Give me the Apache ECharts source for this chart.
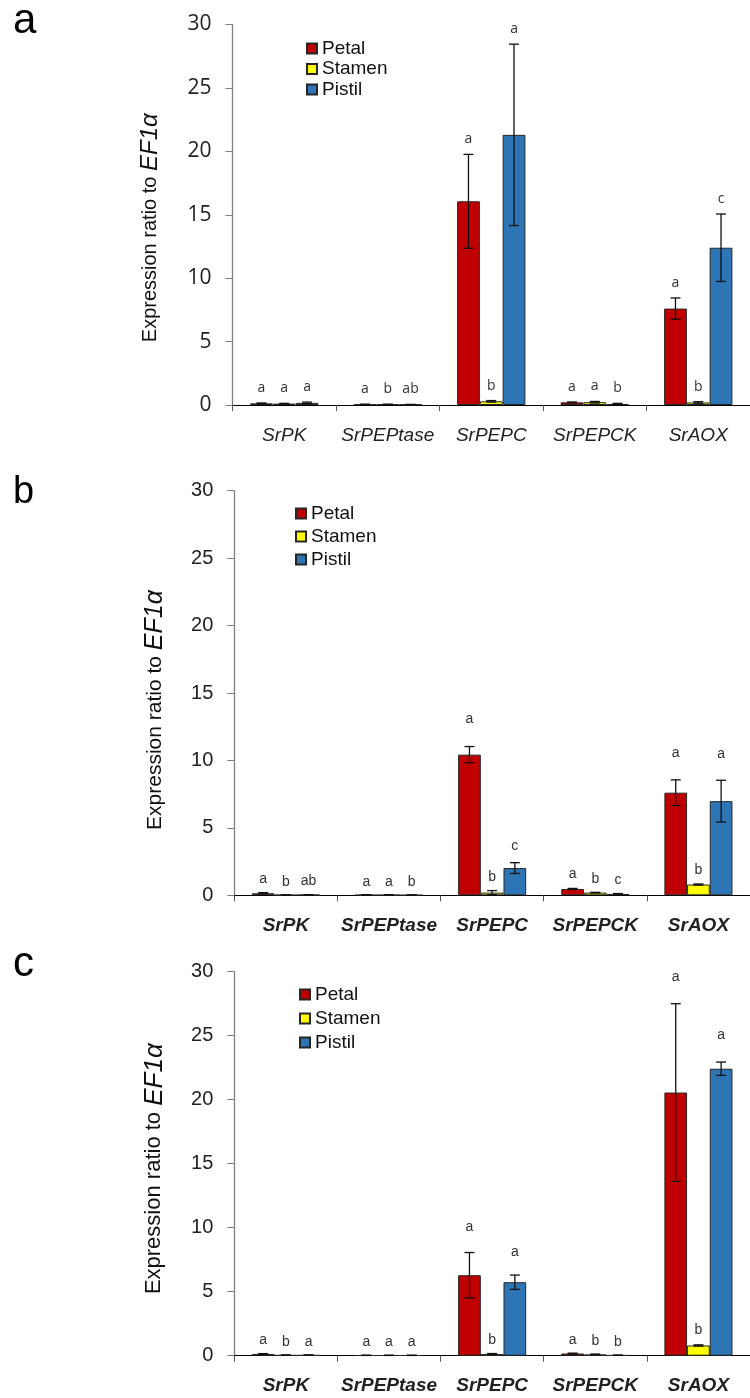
<!DOCTYPE html>
<html>
<head>
<meta charset="utf-8">
<script src="https://cdn.jsdelivr.net/npm/echarts@6/dist/echarts.min.js"></script>
<style>
  html, body { margin: 0; padding: 0; background: #fff; }
  #chart { width: 750px; height: 1398px; }
</style>
</head>
<body>
<div id="chart"></div>
<script>
// Genes on the x axis and flower organs (one bar each)
const genes = ['SrPK', 'SrPEPtase', 'SrPEPC', 'SrPEPCK', 'SrAOX'];
const tissues = ['Petal', 'Stamen', 'Pistil'];
const yMin = 0, yMax = 30, yStep = 5;

// Panel a: mean expression and error per gene
const petalA      = [0.13, 0.05, 16.06, 0.21, 7.60];
const petalErrA   = [0.03, 0.01, 3.70, 0.03, 0.84];
const stamenA     = [0.11, 0.05, 0.29, 0.22, 0.20];
const stamenErrA  = [0.02, 0.01, 0.06, 0.06, 0.06];
const pistilA     = [0.17, 0.04, 21.30, 0.08, 12.40];
const pistilErrA  = [0.06, 0.01, 7.15, 0.05, 2.66];
const petalLetA   = ['a', 'a', 'a', 'a', 'a'];
const stamenLetA  = ['a', 'b', 'b', 'a', 'b'];
const pistilLetA  = ['a', 'ab', 'a', 'b', 'c'];

// Panel b
const petalB      = [0.15, 0.03, 10.43, 0.47, 7.61];
const petalErrB   = [0.05, 0.01, 0.60, 0.04, 0.95];
const stamenB     = [0.03, 0.03, 0.20, 0.20, 0.80];
const stamenErrB  = [0.01, 0.01, 0.15, 0.02, 0.04];
const pistilB     = [0.04, 0.02, 2.02, 0.10, 6.98];
const pistilErrB  = [0.01, 0.01, 0.40, 0.03, 1.55];
const petalLetB   = ['a', 'a', 'a', 'a', 'a'];
const stamenLetB  = ['b', 'a', 'b', 'b', 'b'];
const pistilLetB  = ['ab', 'b', 'c', 'c', 'a'];

// Panel c
const petalC      = [0.13, 0.03, 6.29, 0.17, 20.56];
const petalErrC   = [0.03, 0.01, 1.77, 0.03, 6.94];
const stamenC     = [0.05, 0.03, 0.13, 0.10, 0.80];
const stamenErrC  = [0.01, 0.01, 0.04, 0.03, 0.05];
const pistilC     = [0.05, 0.03, 5.74, 0.04, 22.42];
const pistilErrC  = [0.01, 0.01, 0.56, 0.01, 0.52];
const petalLetC   = ['a', 'a', 'a', 'a', 'a'];
const stamenLetC  = ['b', 'a', 'b', 'b', 'b'];
const pistilLetC  = ['a', 'a', 'a', 'b', 'a'];

const colors = ['#C00000', '#FFFF00', '#2E75B6'];
const CAT_GAP = 0.34;

// Layout and typography for each of the three panels
const panels = [
  {
    tag: 'a', tagTop: 0, tagSize: 42,
    grid: { left: 232.5, top: 24.5, width: 525, height: 380.5 },
    tickFont: 'Open Sans', tickSize: 21,
    catWeight: 'normal', catSize: 19,
    nameSize: 20, nameFont: 'Liberation Sans Narrow, Liberation Sans', namePad: 26, nameGap: 70,
    legend: { left: 306, top: 39, gap: 1.5 },
    letterFont: 'Open Sans', gapLo: 15, gapHi: 15,
    means: [petalA, stamenA, pistilA],
    errs: [petalErrA, stamenErrA, pistilErrA],
    letters: [petalLetA, stamenLetA, pistilLetA]
  },
  {
    tag: 'b', tagTop: 474, tagSize: 38,
    grid: { left: 234.3, top: 490.7, width: 523, height: 404.6 },
    tickFont: 'Liberation Sans', tickSize: 20,
    catWeight: 'bold', catSize: 19,
    nameSize: 21, nameFont: 'Liberation Sans', namePad: 34, nameGap: 67,
    legend: { left: 295, top: 504, gap: 4 },
    letterFont: 'Liberation Sans', gapLo: 13, gapHi: 27,
    means: [petalB, stamenB, pistilB],
    errs: [petalErrB, stamenErrB, pistilErrB],
    letters: [petalLetB, stamenLetB, pistilLetB]
  },
  {
    tag: 'c', tagTop: 943, tagSize: 42,
    grid: { left: 234.3, top: 971.7, width: 524, height: 384 },
    tickFont: 'Liberation Sans', tickSize: 20,
    catWeight: 'bold', catSize: 19,
    nameSize: 22, nameFont: 'Liberation Sans', namePad: 10, nameGap: 67,
    legend: { left: 299, top: 985, gap: 5 },
    letterFont: 'Liberation Sans', gapLo: 13, gapHi: 27,
    means: [petalC, stamenC, pistilC],
    errs: [petalErrC, stamenErrC, pistilErrC],
    letters: [petalLetC, stamenLetC, pistilLetC]
  }
];

const option = {
  animation: false,
  backgroundColor: '#ffffff',
  title: [], legend: [], grid: [], xAxis: [], yAxis: [], series: []
};

panels.forEach((p, pi) => {
  option.title.push({
    text: p.tag, left: 13, top: p.tagTop, padding: 0,
    textStyle: { fontSize: p.tagSize, fontWeight: 'normal', fontFamily: 'Liberation Sans', color: '#000' }
  });

  option.legend.push({
    data: tissues, orient: 'vertical', left: p.legend.left, top: p.legend.top,
    itemWidth: 10, itemHeight: 10, itemGap: p.legend.gap, icon: 'rect',
    selectedMode: false, padding: 0,
    textStyle: { fontSize: 19, fontFamily: 'Liberation Sans', color: '#111' }
  });

  option.grid.push(Object.assign({ containLabel: false }, p.grid));

  option.xAxis.push({
    type: 'category', gridIndex: pi, data: genes,
    axisLine: { lineStyle: { color: '#000', width: 1 } },
    axisTick: { show: true, length: 6, lineStyle: { color: '#555' } },
    axisLabel: {
      interval: 0, margin: 21, color: '#222',
      fontSize: p.catSize, fontStyle: 'italic', fontWeight: p.catWeight, fontFamily: 'Liberation Sans'
    },
    splitLine: { show: false }
  });

  option.yAxis.push({
    type: 'value', gridIndex: pi, min: yMin, max: yMax, interval: yStep,
    axisLine: { show: true, lineStyle: { color: '#7f7f7f', width: 1.3 } },
    axisTick: { show: true, length: 7, lineStyle: { color: '#7f7f7f' } },
    axisLabel: { margin: 21, color: '#222', fontSize: p.tickSize, fontFamily: p.tickFont },
    splitLine: { show: false },
    name: '{t|Expression ratio to }{e|EF1α}',
    nameLocation: 'middle', nameRotate: 90, nameGap: p.nameGap,
    nameTextStyle: {
      padding: [0, p.namePad, 0, 0],
      rich: {
        t: { fontSize: p.nameSize, fontFamily: p.nameFont, color: '#111' },
        e: { fontSize: p.nameSize + 4, fontStyle: 'italic', fontFamily: 'Liberation Sans', color: '#111' }
      }
    }
  });

  tissues.forEach((t, k) => {
    option.series.push({
      type: 'bar', name: t, xAxisIndex: pi, yAxisIndex: pi,
      data: p.means[k],
      barGap: '0%', barCategoryGap: (CAT_GAP * 100) + '%',
      itemStyle: { color: colors[k], borderColor: '#262626', borderWidth: 1 },
      emphasis: { disabled: true }
    });
  });

  // Error bars and significance letters, positioned through the panel's axes
  const rows = [];
  const lets = [];
  tissues.forEach((t, k) => {
    genes.forEach((g, c) => {
      rows.push([c, k, p.means[k][c], p.errs[k][c]]);
      lets.push(p.letters[k][c]);
    });
  });

  option.series.push({
    type: 'custom', xAxisIndex: pi, yAxisIndex: pi, z: 10, silent: true,
    data: rows,
    encode: { x: 0, y: 2 },
    renderItem: (params, api) => {
      const c = api.value(0), k = api.value(1), m = api.value(2), e = api.value(3);
      const center = api.coord([c, 0]);
      const band = api.size([1, 0])[0];
      const bw = band * (1 - CAT_GAP) / 3;
      const x = center[0] + (k - 1) * bw;
      const yTop = api.coord([c, m + e])[1];
      const yBot = api.coord([c, Math.max(m - e, 0)])[1];
      const cap = 5;
      const ls = { stroke: '#111', lineWidth: 1.3 };
      const gap = p.gapLo + (p.gapHi - p.gapLo) * Math.min(1, (m + e) / 9);
      return {
        type: 'group',
        children: [
          { type: 'line', shape: { x1: x, y1: yTop, x2: x, y2: yBot }, style: ls },
          { type: 'line', shape: { x1: x - cap, y1: yTop, x2: x + cap, y2: yTop }, style: ls },
          { type: 'line', shape: { x1: x - cap, y1: yBot, x2: x + cap, y2: yBot }, style: ls },
          {
            type: 'text',
            style: {
              text: lets[params.dataIndex], x: x, y: yTop - gap,
              align: 'center', verticalAlign: 'middle',
              fontSize: 14, fontFamily: p.letterFont, fill: '#333'
            }
          }
        ]
      };
    }
  });
});

const chart = echarts.init(document.getElementById('chart'), null, { renderer: 'canvas' });
chart.setOption(option);
</script>
</body>
</html>
